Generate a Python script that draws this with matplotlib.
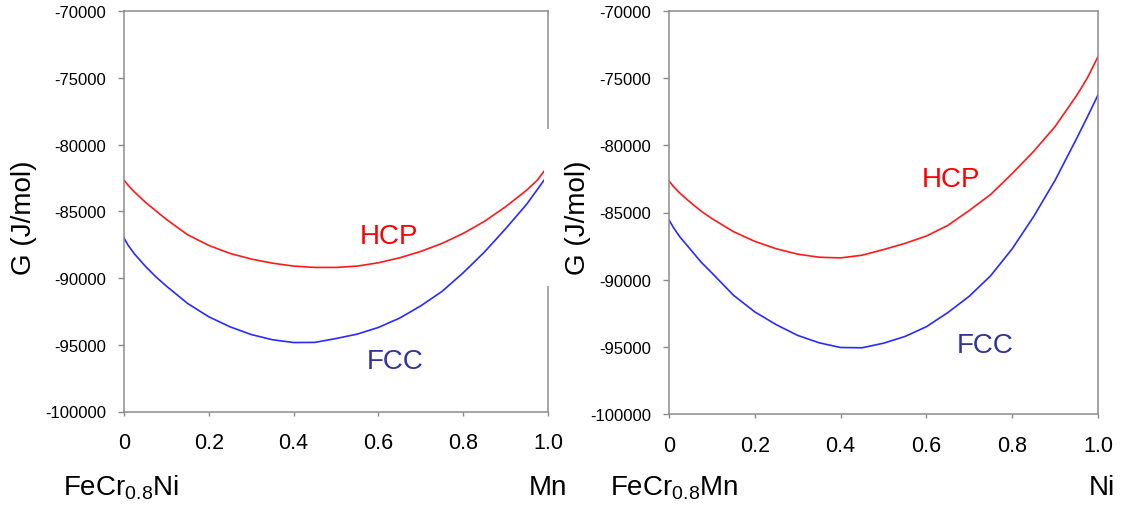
import matplotlib
matplotlib.use("Agg")
import matplotlib.pyplot as plt
from matplotlib.patches import Rectangle

plt.rcParams["font.family"] = ["Liberation Sans", "DejaVu Sans"]

# composition fraction of the added element
x = [0, 0.01, 0.025, 0.05, 0.075, 0.1, 0.15, 0.2, 0.25, 0.3, 0.35, 0.4, 0.45,
     0.5, 0.55, 0.6, 0.65, 0.7, 0.75, 0.8, 0.85, 0.9, 0.95, 0.975, 1.0]

# FeCr0.8Ni -> Mn
hcp_mn = [-82650, -83050, -83550, -84300, -84950, -85600, -86750, -87550, -88150,
          -88570, -88880, -89100, -89200, -89200, -89100, -88850, -88480, -88000,
          -87400, -86650, -85750, -84650, -83400, -82650, -81600]
fcc_mn = [-87000, -87550, -88200, -89100, -89900, -90600, -91900, -92900, -93650,
          -94230, -94620, -94830, -94820, -94530, -94200, -93700, -93000, -92080,
          -91000, -89600, -88050, -86300, -84450, -83350, -82250]

# FeCr0.8Mn -> Ni
hcp_ni = [-82650, -83050, -83550, -84250, -84900, -85450, -86420, -87150, -87700,
          -88100, -88330, -88380, -88180, -87760, -87300, -86750, -85960, -84850,
          -83650, -82100, -80450, -78600, -76300, -75000, -73400]
fcc_ni = [-85550, -86100, -86800, -87750, -88700, -89500, -91150, -92400, -93350,
          -94150, -94700, -95050, -95070, -94730, -94230, -93500, -92450, -91230,
          -89700, -87700, -85300, -82600, -79500, -77900, -76250]

xticks = [0, 0.2, 0.4, 0.6, 0.8, 1.0]
xticklabels = ["0", "0.2", "0.4", "0.6", "0.8", "1.0"]
yticks = [-100000, -95000, -90000, -85000, -80000, -75000, -70000]

panels = [
    dict(rect=[124/1123, 1-412.5/506, 424/1123, 400.2/506], hcp=hcp_mn, fcc=fcc_mn,
         left=r"FeCr$_{\mathregular{0.8}}$Ni", right="Mn", lx=63, rx=567, ylx=24,
         hcp_pos=(0.625, -86850), fcc_pos=(0.639, -96250)),
    dict(rect=[669/1123, 1-415/506, 429/1123, 403/506], hcp=hcp_ni, fcc=fcc_ni,
         left=r"FeCr$_{\mathregular{0.8}}$Mn", right="Ni", lx=610, rx=1115, ylx=578,
         hcp_pos=(0.657, -82520), fcc_pos=(0.738, -94900)),
]

fig = plt.figure(figsize=(11.23, 5.06), dpi=100)
gray = "#8c8c8c"
for p in panels:
    ax = fig.add_axes(p["rect"])
    ax.plot(x, p["hcp"], color="#ff1a1a", lw=1.2)
    ax.plot(x, p["fcc"], color="#2a2aff", lw=1.2)
    ax.set_xlim(0, 1.0); ax.set_ylim(-100000, -70000)
    ax.set_xticks(xticks); ax.set_xticklabels(xticklabels)
    ax.set_yticks(yticks); ax.set_yticklabels([str(v) for v in yticks])
    for s in ax.spines.values():
        s.set_color(gray); s.set_linewidth(1.1)
    ax.tick_params(axis="y", direction="out", length=4, width=1, color=gray, labelsize=12, pad=9)
    ax.tick_params(axis="x", direction="out", length=3, width=1, color=gray, labelsize=15.5, pad=12)
    ax.text(*p["hcp_pos"], "HCP", color="#ff0000", fontsize=20, ha="center", va="center")
    ax.text(*p["fcc_pos"], "FCC", color="#333399", fontsize=20, ha="center", va="center")
    fig.text(p["lx"]/1123, 1-495/506, p["left"], fontsize=20, ha="left", va="baseline")
    fig.text(p["rx"]/1123, 1-495/506, p["right"], fontsize=20, ha="right", va="baseline")
    fig.text(p["ylx"]/1123, 1-218/506, "G (J/mol)", fontsize=20, rotation=90,
             ha="center", va="center")

# white box behind the right ylabel hides part of the left panel's right spine
fig.add_artist(Rectangle((544/1123, 1-287/506), 9/1123, 157/506, transform=fig.transFigure,
                         facecolor="white", edgecolor="none", zorder=10))

fig.savefig("out.png", dpi=100)
